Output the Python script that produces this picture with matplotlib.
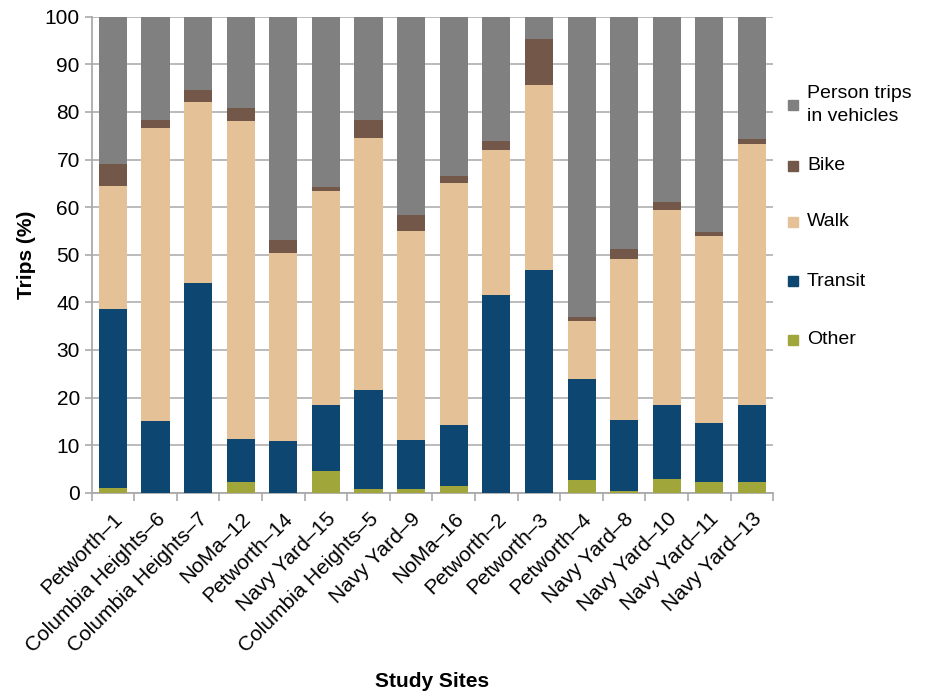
import numpy as np
import matplotlib
matplotlib.use("Agg")
import matplotlib.pyplot as plt
from matplotlib.patches import Rectangle

plt.rcParams['font.family'] = ['Liberation Sans', 'DejaVu Sans']

sites = ["Petworth\u20131", "Columbia Heights\u20136", "Columbia Heights\u20137", "NoMa\u201312",
         "Petworth\u201314", "Navy Yard\u201315", "Columbia Heights\u20135", "Navy Yard\u20139",
         "NoMa\u201316", "Petworth\u20132", "Petworth\u20133", "Petworth\u20134",
         "Navy Yard\u20138", "Navy Yard\u201310", "Navy Yard\u201311", "Navy Yard\u201313"]

# shares in percent
other = [1.0, 0.0, 0.0, 2.3, 0.0, 4.5, 0.7, 0.7, 1.5, 0.0, 0.0, 2.7, 0.3, 2.9, 2.3, 2.3]
transit = [37.7, 15.0, 44.0, 8.9, 10.8, 14.0, 20.8, 10.3, 12.7, 41.5, 46.8, 21.1, 15.0, 15.6, 12.3, 16.2]
walk = [25.8, 61.7, 38.0, 66.8, 39.5, 44.8, 53.0, 44.0, 50.8, 30.5, 38.9, 12.2, 33.7, 41.0, 39.4, 54.8]
bike = [4.5, 1.6, 2.5, 2.8, 2.7, 1.0, 3.7, 3.4, 1.5, 1.8, 9.6, 1.0, 2.3, 1.5, 0.8, 1.0]
vehicles = [100 - a - b - c - d for a, b, c, d in zip(other, transit, walk, bike)]

series = [("Other", other, "#A0A63A"),
          ("Transit", transit, "#0D4670"),
          ("Walk", walk, "#E4C196"),
          ("Bike", bike, "#735749"),
          ("Person trips\nin vehicles", vehicles, "#808080")]

fig = plt.figure(figsize=(9.25, 6.96), dpi=100)
ax = fig.add_axes([0.099, 0.292, 0.737, 0.684])

x = np.arange(len(sites))
bottom = np.zeros(len(sites))
for name, vals, col in series:
    ax.bar(x, vals, 0.66, bottom=bottom, color=col, zorder=3)
    bottom += np.array(vals)

ax.set_ylim(0, 100)
ax.set_xlim(-0.5, len(sites) - 0.5)
ax.set_yticks(range(0, 101, 10))
ax.tick_params(axis='y', labelsize=15, length=5, color='#aaaaaa', width=1.2)
ax.yaxis.grid(True, color='#b5b5b5', linewidth=1.3, zorder=0)

ax.set_xticks(x)
ax.set_xticklabels(sites, rotation=45, ha='right', rotation_mode='anchor', fontsize=15)
ax.tick_params(axis='x', length=0, pad=12)
ax.set_xticks(np.arange(-0.5, len(sites)), minor=True)
ax.tick_params(axis='x', which='minor', length=6, color='#aaaaaa', width=1.2)

for s in ['top', 'right']:
    ax.spines[s].set_visible(False)
for s in ['left', 'bottom']:
    ax.spines[s].set_color('#aaaaaa')
    ax.spines[s].set_linewidth(1.3)

ax.set_ylabel("Trips (%)", fontsize=15, fontweight='bold', labelpad=6)
fig.text(0.467, 0.013, "Study Sites", fontsize=15, fontweight='bold', ha='center')

# legend drawn by hand so the spacing matches the original
W, H = fig.get_size_inches() * fig.dpi
leg_y = [105, 166, 222, 281, 340]
for (name, vals, col), yp in zip(reversed(series), leg_y):
    fig.patches.append(Rectangle((788 / W, 1 - (yp + 5) / H), 10 / W, 10 / H,
                                 color=col, transform=fig.transFigure))
    fig.text(807 / W, 1 - yp / H, name, fontsize=14, va='center', ha='left',
             linespacing=1.5)

fig.savefig("out.png", dpi=100)
